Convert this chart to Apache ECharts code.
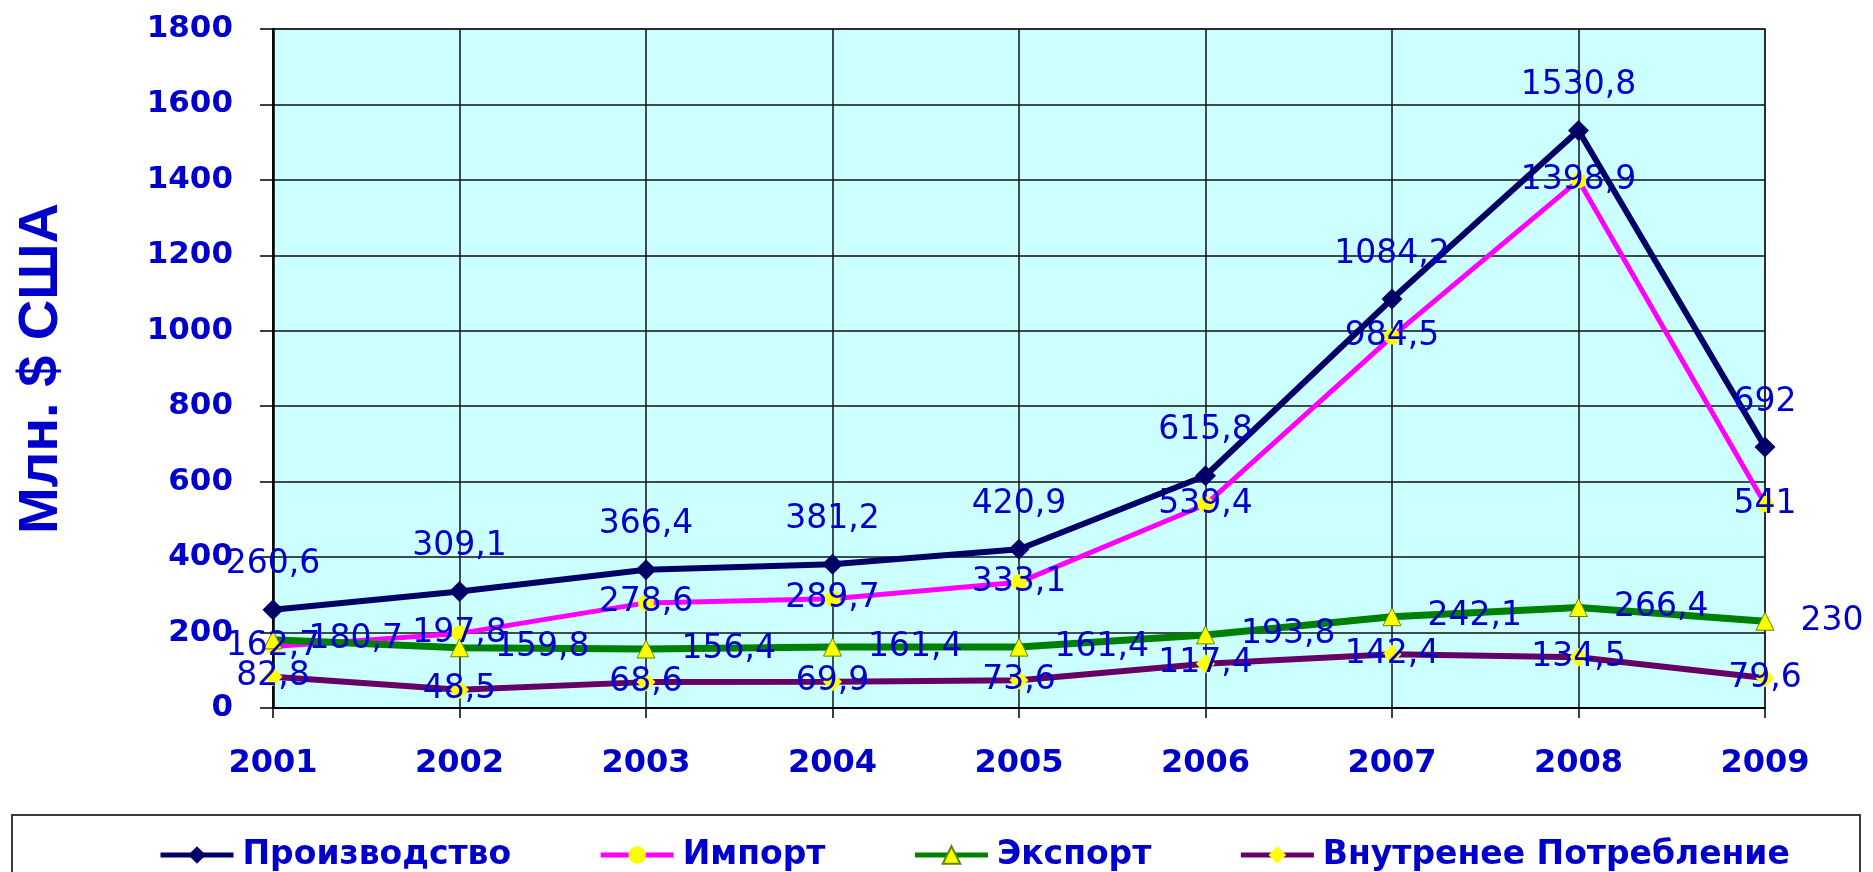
<!DOCTYPE html>
<html>
<head>
<meta charset="utf-8">
<script src="https://cdn.jsdelivr.net/npm/echarts@6/dist/echarts.min.js"></script>
<style>
  html, body { margin: 0; padding: 0; background: #ffffff; }
  #chart { width: 1873px; height: 872px; }
</style>
</head>
<body>
<div id="chart"></div>
<script>
// Years on the horizontal axis
const years = ['2001', '2002', '2003', '2004', '2005', '2006', '2007', '2008', '2009'];

// Values, million US dollars
const production = [260.6, 309.1, 366.4, 381.2, 420.9, 615.8, 1084.2, 1530.8, 692];
const imports    = [162.7, 197.8, 278.6, 289.7, 333.1, 539.4, 984.5, 1398.9, 541];
const exports    = [180.7, 159.8, 156.4, 161.4, 161.4, 193.8, 242.1, 266.4, 230];
const domestic   = [82.8, 48.5, 68.6, 69.9, 73.6, 117.4, 142.4, 134.5, 79.6];

// Series names (legend)
const seriesNames = ['Производство', 'Импорт', 'Экспорт', 'Внутренее Потребление'];

// Value axis range
const yMin = 0;
const yMax = 1800;
const yStep = 200;

const BLUE = '#0000CC';
const NUM_FONT = 'DejaVu Sans';

// Decimal comma for labels
const fmt = v => String(v).replace('.', ',');

const labelBase = {
  show: true,
  color: BLUE,
  fontFamily: NUM_FONT,
  fontSize: 33,
  lineHeight: 34,
  formatter: p => fmt(p.value)
};

const chart = echarts.init(document.getElementById('chart'), null, { renderer: 'canvas' });

chart.setOption({
  animation: false,
  backgroundColor: '#ffffff',
  graphic: [{
    // frame around the legend
    type: 'rect',
    z: 0,
    shape: { x: 12, y: 815, width: 1848, height: 80 },
    style: { fill: '#ffffff', stroke: '#3a3a3a', lineWidth: 2 }
  }],
  grid: {
    left: 273,
    right: 108,
    top: 29,
    bottom: 164,
    show: true,
    backgroundColor: '#CCFFFF',
    borderColor: '#808080',
    borderWidth: 2
  },
  legend: {
    left: 153,
    top: 832,
    z: 5,
    itemWidth: 73,
    itemHeight: 22,
    itemGap: 87,
    data: seriesNames,
    lineStyle: { width: 5 },
    textStyle: {
      color: BLUE,
      fontFamily: NUM_FONT,
      fontWeight: 'bold',
      fontSize: 33,
      lineHeight: 36,
      padding: [0, 0, 0, 4]
    }
  },
  xAxis: {
    type: 'category',
    data: years,
    boundaryGap: false,
    axisLine: { lineStyle: { color: '#000000', width: 2 } },
    axisTick: { show: true, inside: false, length: 10, lineStyle: { color: '#000000', width: 1.5 } },
    axisLabel: {
      color: BLUE,
      fontFamily: NUM_FONT,
      fontWeight: 'bold',
      fontSize: 32,
      margin: 40
    },
    splitLine: { show: true, lineStyle: { color: '#111111', width: 1.5 } }
  },
  yAxis: {
    type: 'value',
    min: yMin,
    max: yMax,
    interval: yStep,
    name: 'Млн. $ США',
    nameLocation: 'middle',
    nameRotate: 90,
    nameGap: 203,
    nameTextStyle: {
      color: BLUE,
      fontFamily: 'Liberation Sans',
      fontWeight: 'bold',
      fontSize: 56
    },
    axisLine: { show: true, lineStyle: { color: '#000000', width: 2.5 } },
    axisTick: { show: true, inside: false, length: 13, lineStyle: { color: '#000000', width: 1.5 } },
    axisLabel: {
      color: BLUE,
      fontFamily: NUM_FONT,
      fontWeight: 'bold',
      fontSize: 31,
      margin: 40,
      formatter: v => String(v)
    },
    splitLine: { show: true, lineStyle: { color: '#111111', width: 1.5 } }
  },
  series: [
    {
      name: seriesNames[0],
      type: 'line',
      data: production,
      z: 4,
      symbol: 'diamond',
      symbolSize: 21,
      lineStyle: { color: '#000066', width: 6 },
      itemStyle: { color: '#000066' },
      label: Object.assign({}, labelBase, { position: 'inside', offset: [0, -45] })
    },
    {
      name: seriesNames[1],
      type: 'line',
      data: imports,
      z: 3,
      symbol: 'circle',
      symbolSize: 16,
      lineStyle: { color: '#FF00FF', width: 5 },
      itemStyle: { color: '#FFFF00', borderWidth: 0 },
      label: Object.assign({}, labelBase, { position: 'inside' })
    },
    {
      name: seriesNames[2],
      type: 'line',
      data: exports,
      z: 3,
      symbol: 'triangle',
      symbolSize: 18,
      lineStyle: { color: '#008000', width: 7 },
      itemStyle: { color: '#FFFF00', borderColor: '#5a8a00', borderWidth: 1 },
      label: Object.assign({}, labelBase, { position: 'right', distance: 26 })
    },
    {
      name: seriesNames[3],
      type: 'line',
      data: domestic,
      z: 3,
      symbol: 'diamond',
      symbolSize: 19,
      lineStyle: { color: '#660066', width: 6 },
      itemStyle: { color: '#FFFF00', borderWidth: 0 },
      label: Object.assign({}, labelBase, { position: 'inside' })
    }
  ]
});
</script>
</body>
</html>
